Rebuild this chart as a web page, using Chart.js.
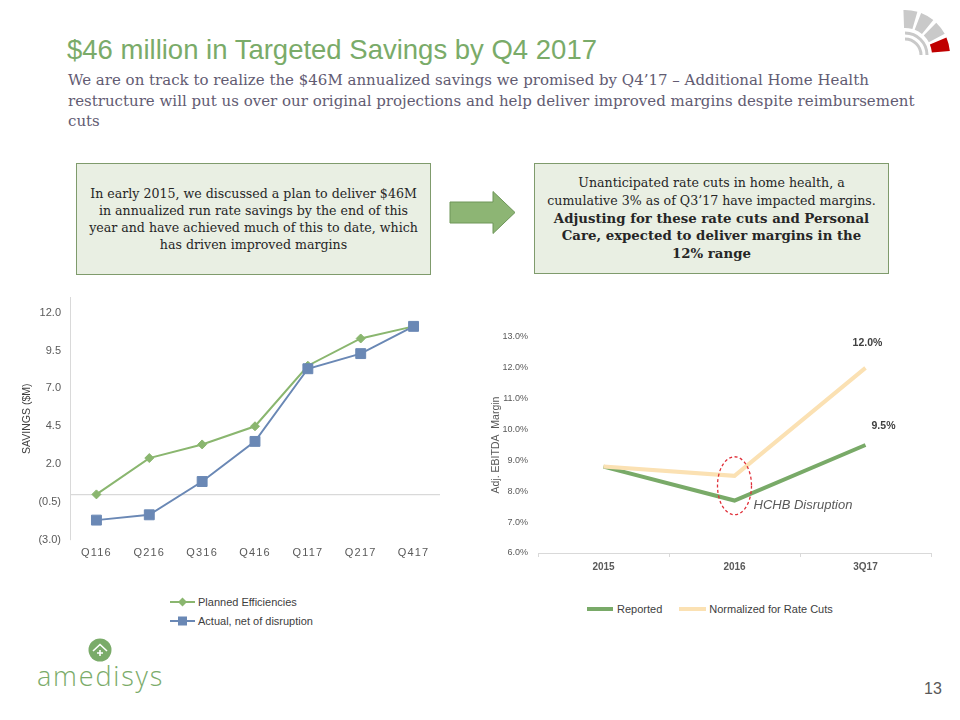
<!DOCTYPE html>
<html>
<head>
<meta charset="utf-8">
<script src="https://cdn.jsdelivr.net/npm/chart.js@4.4.1/dist/chart.umd.min.js"></script>
<style>
  html, body { margin:0; padding:0; background:#fff; }
  body { width:960px; height:720px; position:relative; overflow:hidden; font-family:"Liberation Sans", Arial, sans-serif; }
  .abs { position:absolute; }
  #title { left:67px; top:35px; font-size:27.5px; color:#7aab69; white-space:nowrap; line-height:30px; }
  #subtitle { left:68px; top:70px; font-family:"DejaVu Serif", serif; font-size:15px; line-height:20.5px; color:#625b72; white-space:nowrap; }
  .box { background:#e9efe3; border:1.5px solid #7f9b6c; box-sizing:border-box; display:flex; align-items:center; justify-content:center; text-align:center; font-family:"DejaVu Serif", serif; color:#262626; white-space:nowrap; }
  .box b { font-size:13.3px; }
  #box1 { left:76px; top:163px; width:355px; height:112px; font-size:12.6px; line-height:17px; }
  #box2 { left:534px; top:163px; width:355px; height:111px; font-size:12.6px; line-height:17.7px; }
  .leg { font-size:11px; color:#404040; white-space:nowrap; display:flex; align-items:center; }
  #pageno { left:924px; top:680px; font-size:16px; color:#595959; }
  #brand { left:37px; top:660px; font-family:"Open Sans", sans-serif; font-weight:300; font-size:27px; letter-spacing:1.8px; color:#7aab69; white-space:nowrap; line-height:32px; }
</style>
</head>
<body>
<div id="title" class="abs">$46 million in Targeted Savings by Q4 2017</div>
<div id="subtitle" class="abs">We are on track to realize the $46M annualized savings we promised by Q4’17 – Additional Home Health<br>restructure will put us over our original projections and help deliver improved margins despite reimbursement<br>cuts</div>

<div id="box1" class="abs box"><div>In early 2015, we discussed a plan to deliver $46M<br>in annualized run rate savings by the end of this<br>year and have achieved much of this to date, which<br>has driven improved margins</div></div>
<div id="box2" class="abs box"><div>Unanticipated rate cuts in home health, a<br>cumulative 3% as of Q3’17 have impacted margins.<br><b>Adjusting for these rate cuts and Personal<br>Care, expected to deliver margins in the<br>12% range</b></div></div>

<svg class="abs" style="left:0;top:0" width="960" height="720" viewBox="0 0 960 720">
  <polygon points="450,202 493,202 493,191.5 515,212.5 493,233.5 493,223 450,223" fill="#8db574" stroke="#6e9659" stroke-width="1"/>
  <g transform="translate(905,55)">
    <path d="M0,-45 A45,45 0 0 1 13.9,-42.8 L8.3,-25.7 A27,27 0 0 0 0,-27 Z" fill="#c9c9c9" transform="rotate(-2)"/>
    <path d="M0,-45 A45,45 0 0 1 13.9,-42.8 L8.3,-25.7 A27,27 0 0 0 0,-27 Z" fill="#c9c9c9" transform="rotate(21)"/>
    <path d="M0,-45 A45,45 0 0 1 13.9,-42.8 L8.3,-25.7 A27,27 0 0 0 0,-27 Z" fill="#c9c9c9" transform="rotate(44)"/>
    <path d="M0,-45 A45,45 0 0 1 13.9,-42.8 L8.3,-25.7 A27,27 0 0 0 0,-27 Z" fill="#c00000" transform="rotate(67)"/>
    <path d="M0,-22 A22,22 0 0 1 22,0" fill="none" stroke="#c9c9c9" stroke-width="3"/>
    <path d="M0,-16 A16,16 0 0 1 16,0" fill="none" stroke="#c9c9c9" stroke-width="3"/>
  </g>
  <circle cx="100" cy="650" r="11.5" fill="#7aab69"/>
  <path d="M93,651 L100,644.5 L107,651" fill="none" stroke="#fff" stroke-width="1.6"/>
  <path d="M100,650 L100,656 M97,653 L103,653" stroke="#fff" stroke-width="1.6"/>
</svg>
<div id="brand" class="abs">amedisys</div>
<div id="pageno" class="abs">13</div>

<canvas id="c1" class="abs" style="left:0;top:282px" width="450" height="285"></canvas>
<canvas id="c2" class="abs" style="left:460px;top:320px" width="490" height="257"></canvas>

<div id="leg1" class="abs" style="left:170px;top:592px"></div>
<div id="leg2" class="abs" style="left:587px;top:600px"></div>

<script>
// ---------- data ----------
const quarters = ['Q116','Q216','Q316','Q416','Q117','Q217','Q417'];
const plannedEfficiencies = [0.0, 2.4, 3.3, 4.5, 8.5, 10.3, 11.1];
const actualNetOfDisruption = [-1.7, -1.35, 0.85, 3.5, 8.3, 9.3, 11.1];
const savingsTicks = [-3, -0.5, 2, 4.5, 7, 9.5, 12];

const periods = ['2015', '2016', '3Q17'];
const reportedMargin = [8.8, 7.7, 9.5];
const normalizedMargin = [8.8, 8.5, 12.0];
const marginTicks = [6, 7, 8, 9, 10, 11, 12, 13];

const seriesNames1 = ['Planned Efficiencies', 'Actual, net of disruption'];
const seriesNames2 = ['Reported', 'Normalized for Rate Cuts'];
const annotationText = 'HCHB Disruption';
// ---------------------------

Chart.defaults.font.family = '"Liberation Sans", Arial, sans-serif';
Chart.defaults.color = '#595959';
Chart.defaults.animation = false;

const cPlanned = '#8ab66f', cActual = '#6a88b5';
const cReported = '#79aa68', cNormalized = '#fbe1b3';

const fmtSavings = v => v < 0 ? '(' + Math.abs(v).toFixed(1) + ')' : v.toFixed(1);

const spacingPlugin = {
  id: 'spacing',
  afterDatasetsDraw(chart) { chart.ctx.letterSpacing = '1.2px'; },
  afterDraw(chart) { chart.ctx.letterSpacing = '0px'; }
};

new Chart(document.getElementById('c1'), {
  type: 'line',
  data: {
    labels: quarters,
    datasets: [
      { label: seriesNames1[0], data: plannedEfficiencies, borderColor: cPlanned, backgroundColor: cPlanned,
        borderWidth: 2, pointStyle: 'rectRot', pointRadius: 4.5, pointBorderWidth: 1, order: 1, tension: 0 },
      { label: seriesNames1[1], data: actualNetOfDisruption, borderColor: cActual, backgroundColor: cActual,
        borderWidth: 2, pointStyle: 'rect', pointRadius: 7, pointBorderWidth: 1, order: 0, tension: 0 }
    ]
  },
  plugins: [spacingPlugin],
  options: {
    responsive: false,
    layout: { autoPadding: false, padding: { top: 7, right: 10, left: 0, bottom: 0 } },
    plugins: { legend: { display: false }, tooltip: { enabled: false } },
    scales: {
      x: {
        offset: true,
        grid: { display: false, drawTicks: false },
        border: { display: false },
        ticks: { z: 1, padding: 7, font: { size: 11 }, color: '#595959', maxRotation: 0 }
      },
      y: {
        min: -3, max: 13,
        afterBuildTicks: s => { s.ticks = savingsTicks.concat([0]).sort((a,b)=>a-b).map(v => ({ value: v })); },
        afterFit: s => { s.width = 70; },
        grid: { drawTicks: false, color: ctx => (ctx.tick && ctx.tick.value === 0) ? '#d9d9d9' : 'rgba(0,0,0,0)', lineWidth: 1.2 },
        border: { display: true, color: '#d9d9d9', width: 1 },
        ticks: { padding: 9, autoSkip: false, font: { size: 11 }, color: '#595959',
          callback: v => v === 0 ? '' : fmtSavings(v) },
        title: { display: true, text: 'SAVINGS ($M)', font: { size: 10.5 }, color: '#404040', padding: { top: 21, bottom: 0 } }
      }
    }
  }
});

const annotPlugin = {
  id: 'annot',
  afterDatasetsDraw(chart) {
    const ctx = chart.ctx;
    const xs = chart.scales.x, ys = chart.scales.y;
    const lastIdx = periods.length - 1;
    const mN = chart.getDatasetMeta(1).data[lastIdx];
    const mR = chart.getDatasetMeta(0).data[lastIdx];
    ctx.save();
    ctx.font = 'bold 10.5px "Liberation Sans", Arial, sans-serif';
    ctx.fillStyle = '#404040';
    ctx.textAlign = 'center'; ctx.textBaseline = 'middle';
    ctx.fillText(normalizedMargin[lastIdx].toFixed(1) + '%', mN.x + 2, mN.y - 25);
    ctx.fillText(reportedMargin[lastIdx].toFixed(1) + '%', mR.x + 18, mR.y - 19);
    const ex = xs.getPixelForValue(1), ey = ys.getPixelForValue(8.18);
    ctx.beginPath();
    ctx.setLineDash([3, 2.5]);
    ctx.strokeStyle = '#e0303a'; ctx.lineWidth = 1.3;
    ctx.ellipse(ex, ey, 17, 29, 0, 0, Math.PI * 2);
    ctx.stroke();
    ctx.setLineDash([]);
    ctx.font = 'italic 13px "Liberation Sans", Arial, sans-serif';
    ctx.fillStyle = '#595959'; ctx.textAlign = 'left';
    ctx.fillText(annotationText, ex + 19, ys.getPixelForValue(7.55));
    ctx.restore();
  }
};

new Chart(document.getElementById('c2'), {
  type: 'line',
  data: {
    labels: periods,
    datasets: [
      { label: seriesNames2[0], data: reportedMargin, borderColor: cReported, backgroundColor: cReported,
        borderWidth: 4, pointRadius: 0, order: 1, tension: 0 },
      { label: seriesNames2[1], data: normalizedMargin, borderColor: cNormalized, backgroundColor: cNormalized,
        borderWidth: 4, pointRadius: 0, order: 0, tension: 0 }
    ]
  },
  plugins: [annotPlugin],
  options: {
    responsive: false,
    layout: { autoPadding: false, padding: { top: 17, right: 19, left: 0, bottom: 0 } },
    plugins: { legend: { display: false }, tooltip: { enabled: false } },
    scales: {
      x: {
        offset: true,
        grid: { display: true, drawOnChartArea: false, offset: true, tickLength: 4, color: '#d9d9d9' },
        border: { display: true, color: '#d9d9d9' },
        ticks: { padding: 4, font: { size: 10, weight: 'bold' }, color: '#595959', maxRotation: 0 }
      },
      y: {
        min: 6, max: 13,
        afterBuildTicks: s => { s.ticks = marginTicks.map(v => ({ value: v })); },
        afterFit: s => { s.width = 78; },
        grid: { display: false, drawTicks: false },
        border: { display: false },
        ticks: { padding: 10, font: { size: 9 }, color: '#595959', callback: v => v.toFixed(1) + '%' },
        title: { display: true, text: 'Adj. EBITDA  Margin', font: { size: 10.5 }, color: '#595959', padding: { top: 30, bottom: 0 } }
      }
    }
  }
});

const leg1 = document.getElementById('leg1');
leg1.innerHTML =
  '<div class="leg" style="height:19px"><svg width="28" height="10"><line x1="0" y1="5" x2="25" y2="5" stroke="' + cPlanned + '" stroke-width="2"/><polygon points="12.5,0.5 17,5 12.5,9.5 8,5" fill="' + cPlanned + '"/></svg><span>' + seriesNames1[0] + '</span></div>' +
  '<div class="leg" style="height:19px"><svg width="28" height="12"><line x1="0" y1="6" x2="25" y2="6" stroke="' + cActual + '" stroke-width="2"/><rect x="8" y="1.5" width="9" height="9" fill="' + cActual + '"/></svg><span>' + seriesNames1[1] + '</span></div>';
const leg2 = document.getElementById('leg2');
leg2.innerHTML =
  '<div class="leg" style="height:18px"><svg width="30" height="6"><line x1="0" y1="3" x2="26" y2="3" stroke="' + cReported + '" stroke-width="4"/></svg><span style="margin-right:17px">' + seriesNames2[0] + '</span>' +
  '<svg width="30" height="6"><line x1="0" y1="3" x2="27" y2="3" stroke="' + cNormalized + '" stroke-width="4"/></svg><span>' + seriesNames2[1] + '</span></div>';
</script>
</body>
</html>
